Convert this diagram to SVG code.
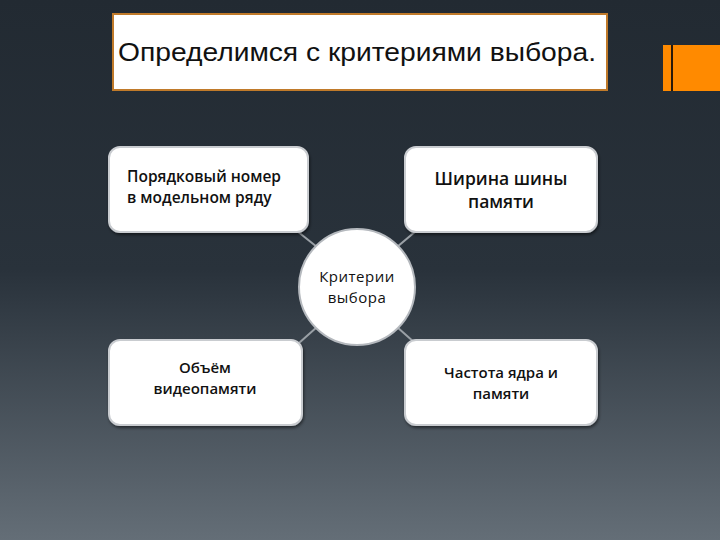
<svg xmlns="http://www.w3.org/2000/svg" width="720" height="540" viewBox="0 0 720 540">
<defs>
<linearGradient id="bg" x1="0" y1="0" x2="0" y2="1">
<stop offset="0" stop-color="#222a32"/>
<stop offset="0.5" stop-color="#29323b"/>
<stop offset="1" stop-color="#646e77"/>
</linearGradient>
<filter id="sh" x="-10%" y="-10%" width="120%" height="130%">
<feDropShadow dx="1" dy="2" stdDeviation="1.5" flood-color="#000" flood-opacity="0.5"/>
</filter>
</defs>
<style>
.box{fill:#ffffff;stroke:#c9ccd0;stroke-width:2;filter:url(#sh)}
.t{font-family:"Open Sans","Noto Sans",sans-serif;font-weight:600;font-size:15px;fill:#111}
.c{font-family:"Open Sans","Noto Sans",sans-serif;font-size:15px;fill:#111;letter-spacing:0.5px}
.conn{stroke:#9aa0a6;stroke-width:2}
</style>
<rect width="720" height="540" fill="url(#bg)"/>
<g id="title">
<rect x="113" y="14" width="494" height="76" fill="#ffffff" stroke="#c07a2a" stroke-width="2"/>
<text x="118" y="61" font-family="Liberation Sans, Arial, sans-serif" font-size="26" textLength="478" lengthAdjust="spacingAndGlyphs" fill="#111">Определимся с критериями выбора.</text>
</g>
<g id="accent">
<rect x="663" y="45" width="57" height="46" fill="#ff8a00"/>
<rect x="671" y="45" width="2" height="46" fill="#2a1a0a"/>
</g>
<g id="connectors">
<line class="conn" x1="297" y1="231" x2="317" y2="247"/>
<line class="conn" x1="416" y1="231" x2="397" y2="247"/>
<line class="conn" x1="317" y1="327" x2="299" y2="343"/>
<line class="conn" x1="397" y1="327" x2="415" y2="343"/>
</g>
<g id="center">
<circle cx="357" cy="287" r="58" fill="#ffffff" stroke="#b5b9be" stroke-width="2"/>
<text class="c" text-anchor="middle" x="357" y="282">Критерии</text>
<text class="c" text-anchor="middle" x="357" y="303">выбора</text>
</g>
<g id="n1">
<rect class="box" x="109" y="147" width="199" height="85" rx="11"/>
<text class="t" x="127" y="182" style="font-size:15.5px">Порядковый номер</text>
<text class="t" x="127" y="203" style="font-size:15.5px">в модельном ряду</text>
</g>
<g id="n2">
<rect class="box" x="405" y="147" width="192" height="85" rx="11"/>
<text class="t" text-anchor="middle" x="501" y="185" style="font-size:17.5px">Ширина шины</text>
<text class="t" text-anchor="middle" x="501" y="208" style="font-size:17.5px">памяти</text>
</g>
<g id="n3">
<rect class="box" x="109" y="340" width="193" height="85" rx="11"/>
<text class="t" text-anchor="middle" x="205" y="373">Объём</text>
<text class="t" text-anchor="middle" x="205" y="394">видеопамяти</text>
</g>
<g id="n4">
<rect class="box" x="405" y="340" width="192" height="85" rx="11"/>
<text class="t" text-anchor="middle" x="501" y="378">Частота ядра и</text>
<text class="t" text-anchor="middle" x="501" y="399">памяти</text>
</g>
</svg>
